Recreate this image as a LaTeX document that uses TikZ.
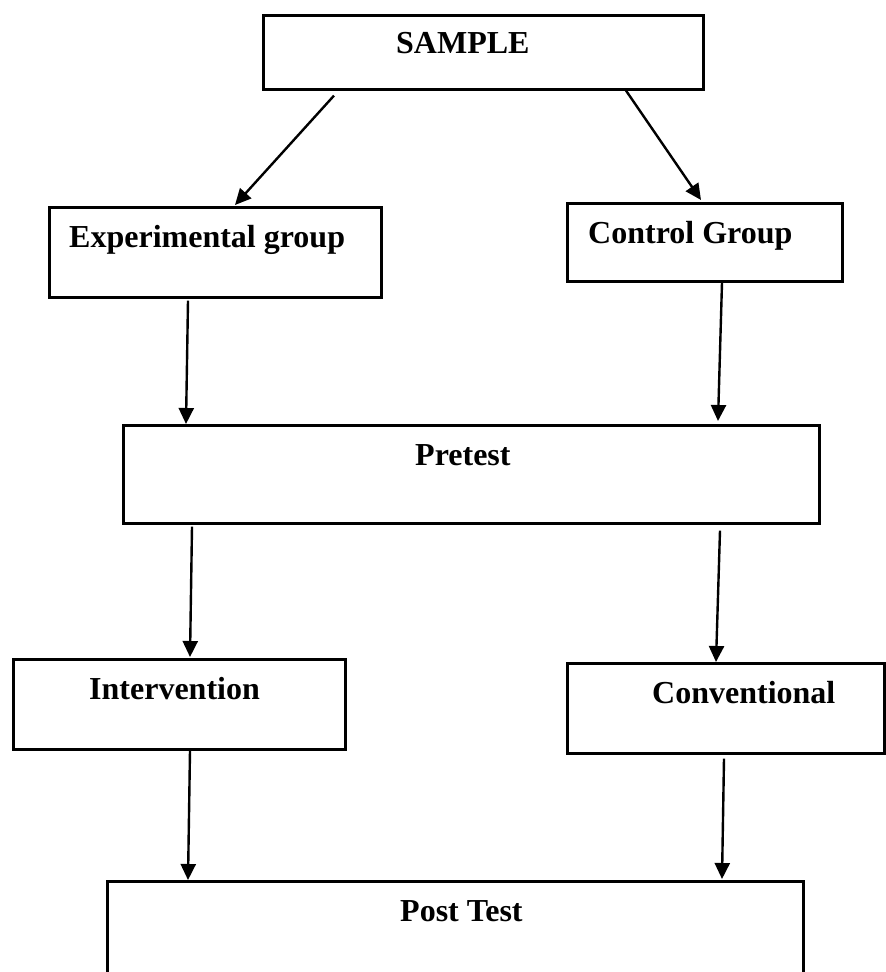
\documentclass[tikz,border=0pt]{standalone}
\usepackage{fontspec}
\setmainfont{Liberation Serif}
\usetikzlibrary{arrows.meta}
\begin{document}
\begin{tikzpicture}[x=1pt,y=-1pt,
  box/.style={draw, line width=2.6pt, inner sep=0pt, anchor=north west},
  lbl/.style={font=\fontsize{32}{38}\selectfont\bfseries, inner sep=0pt, anchor=base west},
  arr/.style={line width=2.4pt, -{Triangle[length=16pt,width=15pt]}}]
\useasboundingbox (0,0) rectangle (886,972);
\clip (0,0) rectangle (886,972);
% boxes
\node[box, minimum width=440pt, minimum height=74pt] (sample) at (262,14) {};
\node[box, minimum width=332pt, minimum height=90pt] (exp) at (48,206) {};
\node[box, minimum width=275pt, minimum height=78pt] (ctrl) at (566,202) {};
\node[box, minimum width=696pt, minimum height=98pt] (pre) at (122,424) {};
\node[box, minimum width=332pt, minimum height=90pt] (intv) at (12,658) {};
\node[box, minimum width=317pt, minimum height=90pt] (conv) at (566,662) {};
\node[box, minimum width=696pt, minimum height=120pt] (post) at (106,880) {};
% labels
\node[lbl] (tsample) at (396,53) {SAMPLE};
\node[lbl] (texp) at (69,247) {Experimental group};
\node[lbl] (tctrl) at (588,243) {Control Group};
\node[lbl] (tpre) at (415,465) {Pretest};
\node[lbl] (tintv) at (89,699) {Intervention};
\node[lbl] (tconv) at (652,703) {Conventional};
\node[lbl] (tpost) at (400,921) {Post Test};
% connectors
\draw[arr] ([xshift=72pt,yshift=-5pt]sample.south west) -- ([xshift=187pt,yshift=1pt]exp.north west);
\draw[arr] ([xshift=364pt]sample.south west) -- ([xshift=135pt,yshift=2pt]ctrl.north west);
\draw[arr] ([xshift=140pt,yshift=-2pt]exp.south west) -- ([xshift=64pt]pre.north west);
\draw[arr] ([xshift=156pt]ctrl.south west) -- ([xshift=596pt,yshift=3pt]pre.north west);
\draw[arr] ([xshift=70pt,yshift=-2pt]pre.south west) -- ([xshift=178pt,yshift=1pt]intv.north west);
\draw[arr] ([xshift=598pt,yshift=-6pt]pre.south west) -- ([xshift=150pt]conv.north west);
\draw[arr] ([xshift=178pt]intv.south west) -- ([xshift=82pt]post.north west);
\draw[arr] ([xshift=158pt,yshift=-4pt]conv.south west) -- ([xshift=616pt,yshift=1pt]post.north west);
\end{tikzpicture}
\end{document}
